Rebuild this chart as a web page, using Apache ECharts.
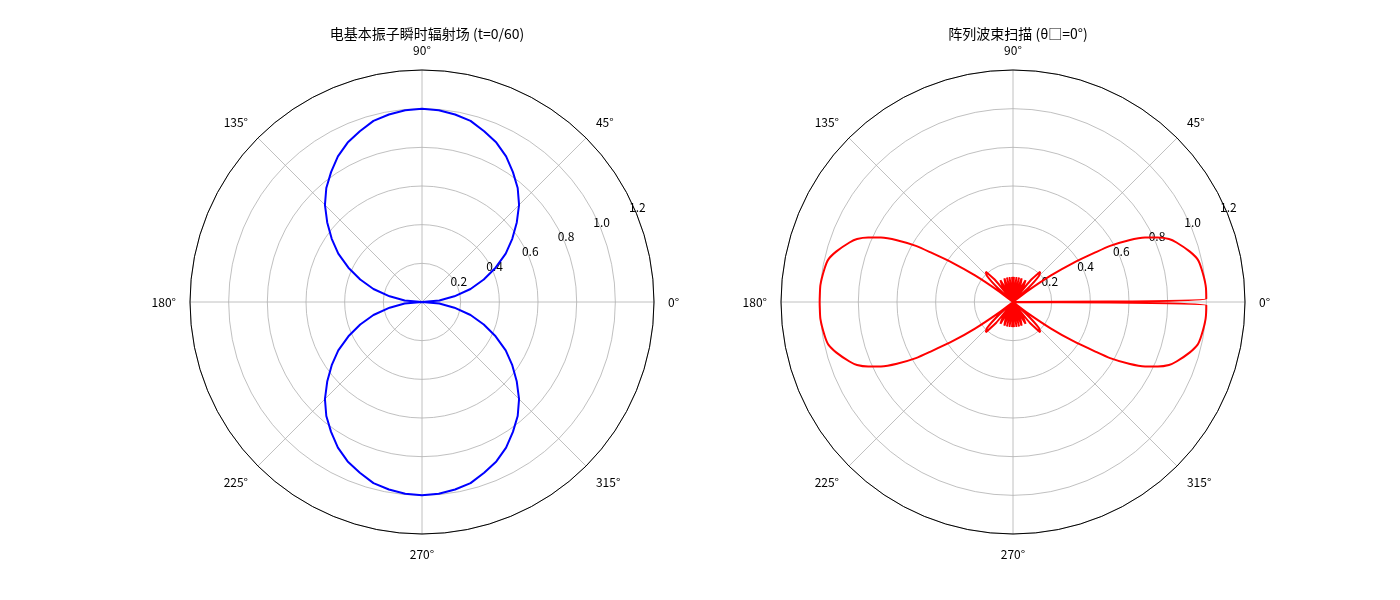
<!DOCTYPE html>
<html>
<head>
<meta charset="utf-8">
<script src="https://cdn.jsdelivr.net/npm/echarts@6/dist/echarts.min.js"></script>
<style>html,body{margin:0;padding:0;background:#fff}#main{width:1400px;height:600px}</style>
</head>
<body>
<div id="main"></div>
<script>
// 读图得到的数据（第一象限，其余按对称拼出）
var dipoleAngles = [0, 5, 10, 15, 20, 25, 30, 35, 40, 45, 50, 55, 60, 65, 70, 75, 80, 85, 90];
var dipoleR = [0, 0.09, 0.17, 0.26, 0.34, 0.42, 0.5, 0.57, 0.64, 0.71, 0.77, 0.82, 0.87, 0.91, 0.94, 0.97, 0.985, 0.996, 1.0];

var arrayAngles = [0, 1, 5, 10, 13, 16, 20, 22, 24, 26, 28, 30, 31, 33, 35, 37, 39, 42, 45, 48, 51, 54, 57, 60, 63, 65, 67, 70, 73, 76, 79, 82, 85, 88, 90];
var arrayR = [0, 1.0, 1.0, 0.99, 0.98, 0.95, 0.9, 0.87, 0.82, 0.76, 0.68, 0.58, 0.5, 0.37, 0.24, 0.1, 0, 0.1, 0.19, 0.21, 0.14, 0, 0.1, 0.13, 0.05, 0, 0.1, 0.13, 0, 0.13, 0, 0.13, 0, 0.13, 0.06];

var radiusTicks = ['', '0.2', '0.4', '0.6', '0.8', '1.0', '1.2'];

// 按 90° / 180° 对称展开成整圈
function fullCircle(angles, rs, closeAt180) {
  var q = [];
  for (var i = 0; i < angles.length; i++) q.push([rs[i], angles[i]]);
  var half = q.slice();
  for (var i = q.length - 2; i >= 0; i--) half.push([q[i][0], 180 - q[i][1]]);
  if (closeAt180) half[half.length - 1] = [q[1][0], 180];
  var all = half.slice();
  for (var i = half.length - 2; i >= 0; i--) all.push([half[i][0], 360 - half[i][1]]);
  return all;
}
var dipoleData = fullCircle(dipoleAngles, dipoleR, false);
var arrayData = fullCircle(arrayAngles, arrayR, true);

var font = '"Noto Sans CJK SC", "DejaVu Sans", sans-serif';
var centers = [['422', '302'], ['1013', '302']];

var polars = [
  { center: centers[0], radius: 232 },
  { center: centers[0], radius: [11, 243] },
  { center: centers[1], radius: 232 },
  { center: centers[1], radius: [11, 243] }
];

var angleAxes = [], radiusAxes = [];
for (var k = 0; k < 2; k++) {
  angleAxes.push({
    polarIndex: k * 2, type: 'value', min: 0, max: 360, interval: 45,
    startAngle: 0, clockwise: false,
    axisLine: { lineStyle: { color: '#000', width: 1 } },
    axisTick: { show: false },
    axisLabel: { formatter: '{value}°', color: '#000', fontSize: 12, fontFamily: font, margin: 14 },
    splitLine: { lineStyle: { color: '#b0b0b0', width: 0.8 } }
  });
  radiusAxes.push({
    polarIndex: k * 2, type: 'value', min: 0, max: 1.2, interval: 0.2,
    axisLine: { show: false }, axisTick: { show: false }, axisLabel: { show: false },
    splitLine: { lineStyle: { color: '#b0b0b0', width: 0.8 } }
  });
  angleAxes.push({
    polarIndex: k * 2 + 1, type: 'value', min: 0, max: 360,
    startAngle: 22.5, clockwise: false, show: false
  });
  radiusAxes.push({
    polarIndex: k * 2 + 1, type: 'value', min: 0, max: 1.2, interval: 0.2,
    axisLine: { show: false }, axisTick: { show: false }, splitLine: { show: false },
    axisLabel: {
      color: '#000', fontSize: 12, fontFamily: font, margin: 2,
      formatter: function (v, i) { return radiusTicks[i] || ''; }
    }
  });
}

var chart = echarts.init(document.getElementById('main'));
chart.setOption({
  animation: false,
  title: [
    { text: '电基本振子瞬时辐射场 (t=0/60)', left: 422, top: 22, textAlign: 'center',
      textStyle: { fontSize: 14, fontWeight: 'normal', color: '#000', fontFamily: font } },
    { text: '阵列波束扫描 (θ\u25A1=0°)', left: 1013, top: 22, textAlign: 'center',
      textStyle: { fontSize: 14, fontWeight: 'normal', color: '#000', fontFamily: font } }
  ],
  polar: polars,
  angleAxis: angleAxes,
  radiusAxis: radiusAxes,
  series: [
    { type: 'line', coordinateSystem: 'polar', polarIndex: 0, data: dipoleData,
      showSymbol: false, lineStyle: { color: '#0000ff', width: 2 } },
    { type: 'line', coordinateSystem: 'polar', polarIndex: 2, data: arrayData,
      smooth: 0.2, showSymbol: false, lineStyle: { color: '#ff0000', width: 2 } }
  ]
});
</script>
</body>
</html>
